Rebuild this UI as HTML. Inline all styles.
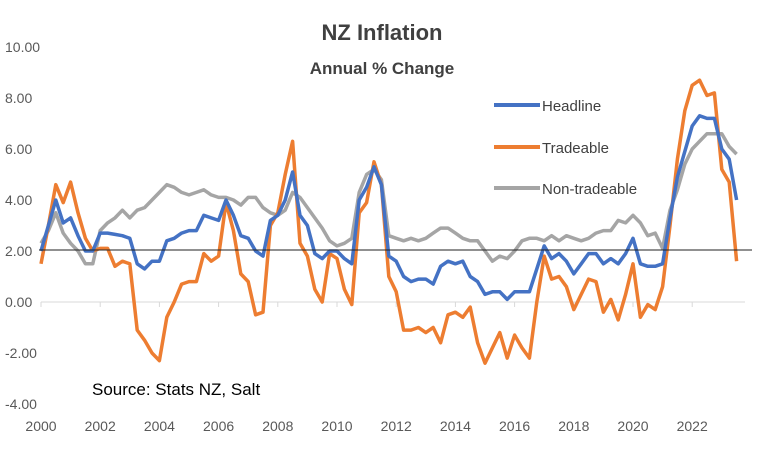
<!DOCTYPE html>
<html><head><meta charset="utf-8"><style>
body{margin:0;background:#fff;}
svg{display:block;font-family:"Liberation Sans",sans-serif;}
</style></head><body>
<svg id="c" width="759" height="449">
<text x="382" y="40" text-anchor="middle" font-size="22" font-weight="bold" fill="#404040">NZ Inflation</text>
<text x="382" y="74" text-anchor="middle" font-size="17" font-weight="bold" fill="#404040">Annual % Change</text>
<g id="yaxis"></g>
<g id="xaxis"></g>
<g id="series"></g>
<g>
<line x1="494" y1="105" x2="540" y2="105" stroke="#4472C4" stroke-width="4"/>
<text x="542" y="111" font-size="15" fill="#404040">Headline</text>
<line x1="494" y1="147" x2="540" y2="147" stroke="#ED7D31" stroke-width="4"/>
<text x="542" y="153" font-size="15" fill="#404040">Tradeable</text>
<line x1="494" y1="188" x2="540" y2="188" stroke="#A5A5A5" stroke-width="4"/>
<text x="542" y="194" font-size="15" fill="#404040">Non-tradeable</text>
</g>
<text x="92" y="395" font-size="17" fill="#000">Source: Stats NZ, Salt</text>
</svg>
<script>
const yTicks=[10,8,6,4,2,0,-2,-4];
const yTickLabels=["10.00","8.00","6.00","4.00","2.00","0.00","-2.00","-4.00"];
const xTicks=[2000,2002,2004,2006,2008,2010,2012,2014,2016,2018,2020,2022];
const startYear=2000;
const headline=[2.0,3.0,4.0,3.1, 3.3,2.6,2.0,2.0, 2.7,2.7,2.65,2.6, 2.5,1.5,1.3,1.6, 1.6,2.4,2.5,2.7, 2.8,2.8,3.4,3.3, 3.2,4.0,3.4,2.6, 2.5,2.0,1.8,3.2, 3.4,4.0,5.1,3.4, 3.0,1.9,1.7,2.0, 2.0,1.7,1.5,4.0, 4.5,5.3,4.6,1.8, 1.6,1.0,0.8,0.9, 0.9,0.7,1.4,1.6, 1.5,1.6,1.0,0.8, 0.3,0.4,0.4,0.1, 0.4,0.4,0.4,1.3, 2.2,1.7,1.9,1.6, 1.1,1.5,1.9,1.9, 1.5,1.7,1.5,1.9, 2.5,1.5,1.4,1.4, 1.5,3.3,4.9,5.9, 6.9,7.3,7.2,7.2, 6.0,5.6,4.0];
const tradeable=[1.5,3.0,4.6,3.9, 4.7,3.5,2.5,2.0, 2.1,2.1,1.4,1.6, 1.5,-1.1,-1.5,-2.0, -2.3,-0.6,0.0,0.7, 0.8,0.8,1.9,1.6, 1.8,3.9,2.8,1.1, 0.8,-0.5,-0.4,3.0, 3.5,5.0,6.3,2.3, 1.8,0.5,0.0,1.9, 1.7,0.5,-0.1,3.5, 3.9,5.5,4.6,1.0, 0.4,-1.1,-1.1,-1.0, -1.2,-1.0,-1.6,-0.5, -0.4,-0.6,-0.2,-1.6, -2.4,-1.8,-1.2,-2.2, -1.3,-1.8,-2.2,0.0, 1.8,0.9,1.0,0.6, -0.3,0.3,0.9,0.8, -0.4,0.1,-0.7,0.3, 1.5,-0.6,-0.1,-0.3, 0.6,3.0,5.6,7.5, 8.5,8.7,8.1,8.2, 5.2,4.7,1.6];
const nontradeable=[2.3,2.8,3.5,2.7, 2.3,2.0,1.5,1.5, 2.8,3.1,3.3,3.6, 3.3,3.6,3.7,4.0, 4.3,4.6,4.5,4.3, 4.2,4.3,4.4,4.2, 4.1,4.1,4.0,3.8, 4.1,4.1,3.7,3.5, 3.4,3.6,4.3,4.1, 3.7,3.3,2.9,2.4, 2.2,2.3,2.5,4.3, 5.0,5.2,4.8,2.6, 2.5,2.4,2.5,2.4, 2.5,2.7,2.9,2.9, 2.7,2.5,2.4,2.4, 2.0,1.6,1.8,1.7, 2.0,2.4,2.5,2.5, 2.4,2.6,2.4,2.6, 2.5,2.4,2.5,2.7, 2.8,2.8,3.2,3.1, 3.4,3.1,2.6,2.7, 2.1,3.6,4.4,5.4, 6.0,6.3,6.6,6.6, 6.6,6.1,5.8];
const NS="http://www.w3.org/2000/svg";
const y=v=>302-v*25.5;
const x=t=>41+(t-startYear)*29.6;
function mk(tag,at,parent){const e=document.createElementNS(NS,tag);for(const k in at)e.setAttribute(k,at[k]);parent.appendChild(e);return e;}
const ya=document.getElementById('yaxis'),xa=document.getElementById('xaxis'),sg=document.getElementById('series');
yTicks.forEach((v,i)=>{const t=mk('text',{x:5,y:y(v)+5,'font-size':14,fill:'#595959'},ya);t.textContent=yTickLabels[i];

});
const base=mk('line',{x1:x(2000),x2:745,y1:y(0),y2:y(0),stroke:'#d9d9d9','stroke-width':1},xa);


xTicks.forEach(v=>{const tk=mk('line',{x1:x(v),x2:x(v),y1:y(0),y2:y(0)+5,stroke:'#d9d9d9'},xa);


const t=mk('text',{x:x(v),y:431,'text-anchor':'middle','font-size':14,fill:'#595959'},xa);t.textContent=v;

});
function line(arr,color,name){const pts=arr.map((v,i)=>x(startYear+i/4).toFixed(1)+','+y(v).toFixed(1)).join(' ');
const p=mk('polyline',{points:pts,fill:'none',stroke:color,'stroke-width':3.5,'stroke-linejoin':'round'},sg);

}
line(nontradeable,'#A5A5A5','nontradeable-line');
line(tradeable,'#ED7D31','tradeable-line');
line(headline,'#4472C4','headline-line');
const ref=mk('line',{x1:x(2000)-2,x2:752,y1:y(2)-1,y2:y(2)-1,stroke:'#222','stroke-width':1},sg);


</script>
</body></html>
